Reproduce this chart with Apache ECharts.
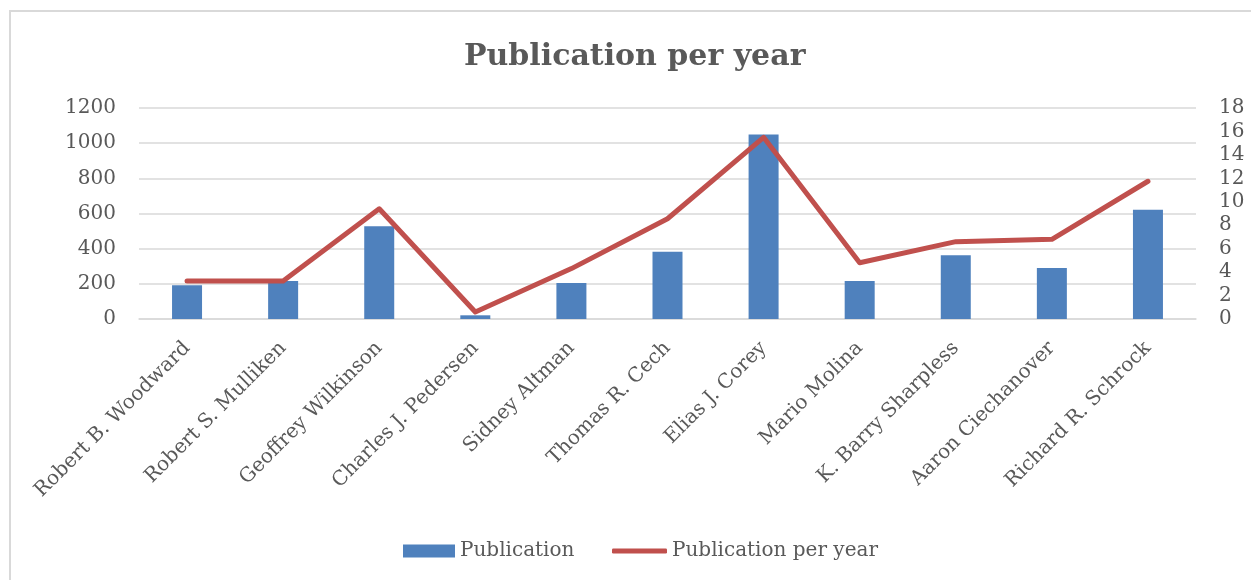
<!DOCTYPE html>
<html>
<head>
<meta charset="utf-8">
<script src="https://cdn.jsdelivr.net/npm/echarts@6/dist/echarts.min.js"></script>
<style>
  html, body { margin: 0; padding: 0; background: #fff; }
  #frame { position: absolute; left: 9px; top: 10px; width: 1260px; height: 600px; border: 2px solid #D9D9D9; box-sizing: border-box; }
  #chart { position: absolute; left: 0; top: 0; width: 1251px; height: 580px; }
</style>
</head>
<body>
<div id="frame"></div>
<div id="chart"></div>
<script>
// Chemists and their publication counts
const chemists = [
  'Robert B. Woodward', 'Robert S. Mulliken', 'Geoffrey Wilkinson', 'Charles J. Pedersen',
  'Sidney Altman', 'Thomas R. Cech', 'Elias J. Corey', 'Mario Molina',
  'K. Barry Sharpless', 'Aaron Ciechanover', 'Richard R. Schrock'
];
const publications = [192, 216, 527, 21, 205, 383, 1050, 216, 362, 290, 622];
const publicationsPerYear = [3.25, 3.25, 9.4, 0.6, 4.3, 8.55, 15.5, 4.8, 6.6, 6.8, 11.75];

const FONT = '"DejaVu Serif", "Liberation Serif", serif';
const TEXT = '#595959';
const BLUE = '#4F81BD';
const RED = '#C0504D';

const chart = echarts.init(document.getElementById('chart'), null, { renderer: 'canvas' });
chart.setOption({
  animation: false,
  backgroundColor: 'transparent',
  title: {
    text: 'Publication per year',
    left: 459,
    top: 37,
    textStyle: { fontFamily: FONT, fontSize: 30, fontWeight: 'bold', color: TEXT }
  },
  legend: [
    {
      left: 398,
      top: 536,
      itemWidth: 52,
      itemHeight: 13,
      textStyle: { fontFamily: FONT, fontSize: 20, color: TEXT },
      data: [{ name: 'Publication', icon: 'rect' }]
    },
    {
      left: 607,
      top: 536,
      itemWidth: 55,
      itemHeight: 5,
      textStyle: { fontFamily: FONT, fontSize: 20, color: TEXT },
      data: [{ name: 'Publication per year', icon: 'roundRect' }]
    }
  ],
  grid: { left: 139, right: 55, top: 108, height: 211 },
  xAxis: {
    type: 'category',
    data: chemists,
    axisTick: { show: false },
    axisLine: { show: true, lineStyle: { color: '#D9D9D9', width: 1.5 } },
    axisLabel: {
      rotate: 45,
      interval: 0,
      margin: 26,
      fontFamily: FONT,
      fontSize: 20,
      color: TEXT
    }
  },
  yAxis: [
    {
      type: 'value',
      min: 0, max: 1200, interval: 200,
      axisLine: { show: false },
      axisTick: { show: false },
      splitLine: { lineStyle: { color: '#D9D9D9', width: 1.5 } },
      axisLabel: { margin: 23, fontFamily: FONT, fontSize: 20, color: TEXT, formatter: v => String(v) }
    },
    {
      type: 'value',
      min: 0, max: 18, interval: 2,
      position: 'right',
      axisLine: { show: false },
      axisTick: { show: false },
      splitLine: { show: false },
      axisLabel: { margin: 23, fontFamily: FONT, fontSize: 20, color: TEXT, formatter: v => String(v) }
    }
  ],
  series: [
    {
      name: 'Publication',
      type: 'bar',
      data: publications,
      barWidth: 30,
      itemStyle: { color: BLUE }
    },
    {
      name: 'Publication per year',
      type: 'line',
      yAxisIndex: 1,
      data: publicationsPerYear,
      symbol: 'none',
      lineStyle: { color: RED, width: 5, cap: 'round', join: 'round' },
      itemStyle: { color: RED }
    }
  ]
});
</script>
</body>
</html>
